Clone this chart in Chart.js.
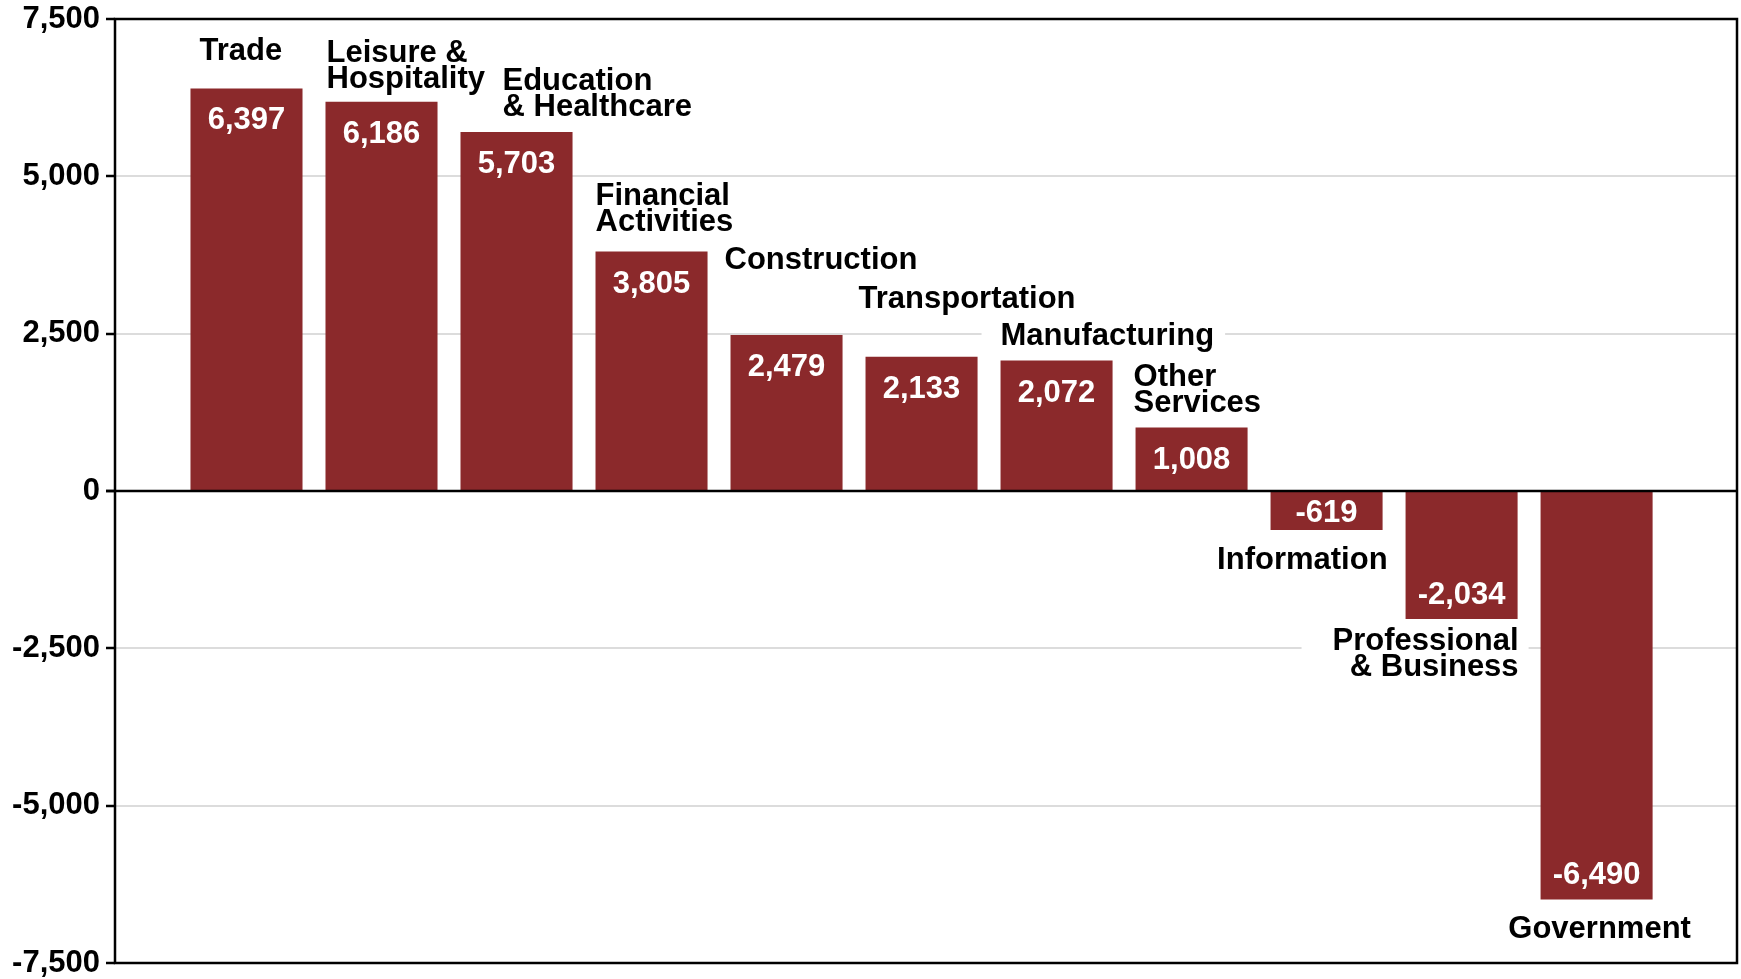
<!DOCTYPE html>
<html lang="en">
<head>
    <meta charset="UTF-8">
    <script src="https://cdn.jsdelivr.net/npm/chart.js"></script>
    <title>Job Change by Sector</title>
    <style>
        body {
            margin: 0;
            background: #fff;
        }
        canvas {
            display: block;
        }
    </style>
</head>
<body>

<canvas id="sectorChart" width="1741" height="979"></canvas>

<script>
    // data
    const sectors = ['Trade', 'Leisure & Hospitality', 'Education & Healthcare', 'Financial Activities',
        'Construction', 'Transportation', 'Manufacturing', 'Other Services', 'Information',
        'Professional & Business', 'Government'];
    const sectorLines = [['Trade'], ['Leisure &', 'Hospitality'], ['Education', '& Healthcare'],
        ['Financial', 'Activities'], ['Construction'], ['Transportation'], ['Manufacturing'],
        ['Other', 'Services'], ['Information'], ['Professional', '& Business'], ['Government']];
    const jobChange = [6397, 6186, 5703, 3805, 2479, 2133, 2072, 1008, -619, -2034, -6490];
    const yTicks = [-7500, -5000, -2500, 0, 2500, 5000, 7500];

    // where each sector name sits relative to the end of its bar
    const namePlace = [
        { anchor: 'left', dx: 9, dy: -28 },
        { anchor: 'left', dx: 1, dy: -40 },
        { anchor: 'left', dx: 42, dy: -42 },
        { anchor: 'left', dx: 0, dy: -47 },
        { anchor: 'left', dx: -6, dy: -66 },
        { anchor: 'left', dx: -7, dy: -49 },
        { anchor: 'left', dx: 0, dy: -16, box: [19, 11] },
        { anchor: 'left', dx: -2, dy: -42 },
        { anchor: 'right', dx: 5, dy: 39 },
        { anchor: 'right', dx: 1, dy: 31, box: [31, 10] },
        { anchor: 'center', dx: 3, dy: 39 }
    ];

    const FONT = '"Liberation Sans", Arial, Helvetica, sans-serif';
    const barColor = '#8B292B';
    const fmt = v => v.toLocaleString('en-US');

    const labelPlugin = {
        id: 'barLabels',
        afterDatasetsDraw(chart) {
            const ctx = chart.ctx;
            const area = chart.chartArea;
            const y0 = chart.scales.y.getPixelForValue(0);

            // zero line over the bars
            ctx.save();
            ctx.strokeStyle = '#000';
            ctx.lineWidth = 2.5;
            ctx.beginPath();
            ctx.moveTo(area.left - 9, y0);
            ctx.lineTo(area.right, y0);
            ctx.stroke();

            ctx.font = 'bold 31px ' + FONT;
            chart.getDatasetMeta(0).data.forEach((bar, i) => {
                const top = Math.min(bar.y, bar.base);
                const bottom = Math.max(bar.y, bar.base);
                const left = bar.x - bar.width / 2;
                const right = bar.x + bar.width / 2;
                const v = jobChange[i];

                // value inside the bar
                ctx.fillStyle = '#fff';
                ctx.textAlign = 'center';
                ctx.textBaseline = 'alphabetic';
                let vy;
                if (v >= 0) vy = top + 41;
                else if (bottom - top < 70) vy = (top + bottom) / 2 + 11;
                else vy = bottom - 15.5;
                ctx.fillText(fmt(v), bar.x, vy);

                // sector name
                const p = namePlace[i];
                const lines = sectorLines[i];
                const endY = v >= 0 ? top : bottom;
                const by = endY + p.dy;
                let x;
                if (p.anchor === 'left') x = left + p.dx;
                else if (p.anchor === 'right') x = right + p.dx;
                else x = bar.x + p.dx;
                ctx.textAlign = p.anchor;

                if (p.box) {
                    const w = Math.max(...lines.map(l => ctx.measureText(l).width));
                    let bx0, bx1;
                    if (p.anchor === 'left') { bx0 = x - p.box[0]; bx1 = x + w + p.box[1]; }
                    else { bx0 = x - w - p.box[0]; bx1 = x + p.box[1]; }
                    ctx.fillStyle = '#fff';
                    ctx.fillRect(bx0, by - 28, bx1 - bx0, (lines.length - 1) * 26 + 38);
                }
                ctx.fillStyle = '#000';
                lines.forEach((l, k) => ctx.fillText(l, x, by + k * 26));
            });
            ctx.restore();
        },
        afterDraw(chart) {
            const a = chart.chartArea;
            const ctx = chart.ctx;
            ctx.save();
            ctx.strokeStyle = '#000';
            ctx.lineWidth = 2.5;
            ctx.strokeRect(a.left, a.top, a.right - a.left, a.bottom - a.top);
            ctx.restore();
        }
    };

    const ctx = document.getElementById('sectorChart').getContext('2d');
    const sectorChart = new Chart(ctx, {
        type: 'bar',
        data: {
            datasets: [{
                label: 'Job change',
                data: jobChange.map((v, i) => ({ x: i, y: v })),
                backgroundColor: barColor,
                borderWidth: 0,
                barPercentage: 0.852,
                categoryPercentage: 1
            }]
        },
        options: {
            responsive: false,
            devicePixelRatio: 1,
            animation: false,
            layout: {
                padding: { left: 0, top: 19, right: 4, bottom: 16 }
            },
            plugins: {
                legend: { display: false },
                tooltip: { enabled: false }
            },
            scales: {
                x: {
                    type: 'linear',
                    offset: false,
                    min: -0.974,
                    max: 11.04,
                    grid: { display: false },
                    border: { display: false },
                    ticks: { display: false },
                    afterFit(scale) { scale.height = 0; }
                },
                y: {
                    min: -7500,
                    max: 7500,
                    afterBuildTicks(scale) {
                        scale.ticks = yTicks.map(v => ({ value: v }));
                    },
                    afterFit(scale) {
                        scale.width = 115;
                        scale.paddingTop = 0;
                        scale.paddingBottom = 0;
                    },
                    border: { display: false },
                    grid: {
                        color: c => (Math.abs(c.tick.value) === 7500 || c.tick.value === 0) ? 'rgba(0,0,0,0)' : '#dcdcdc',
                        lineWidth: 2,
                        tickColor: '#000',
                        tickLength: 9,
                        tickWidth: 2.5
                    },
                    ticks: {
                        padding: 6,
                        color: '#000',
                        font: { family: FONT, size: 31, weight: 'bold', lineHeight: 1 },
                        callback: v => fmt(v)
                    }
                }
            }
        },
        plugins: [labelPlugin]
    });
</script>

</body>
</html>
